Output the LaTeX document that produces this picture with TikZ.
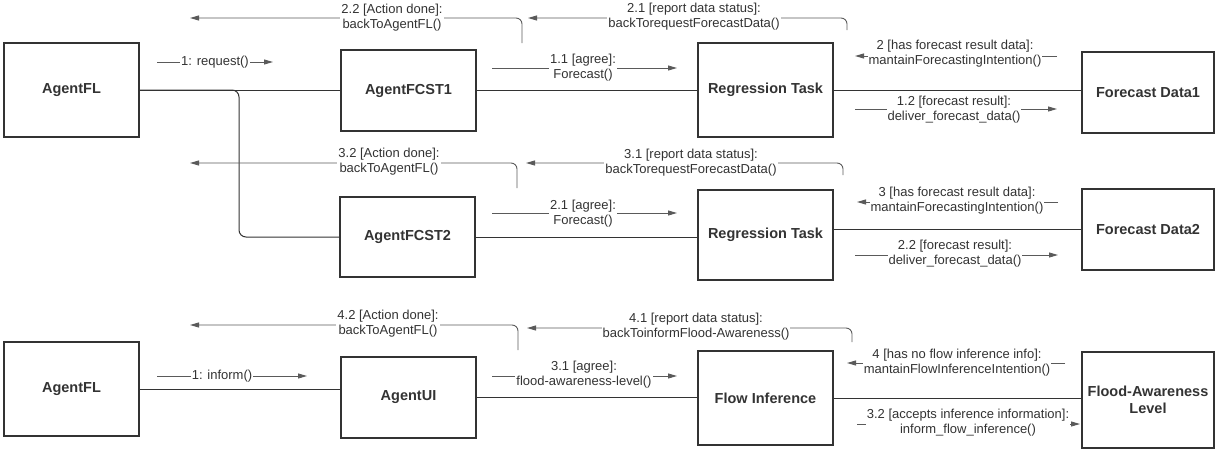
\documentclass[tikz,border=0pt]{standalone}
\usepackage{fontspec}
\setmainfont{Liberation Sans}
\usetikzlibrary{arrows.meta}
\definecolor{boxc}{HTML}{333333}
\definecolor{msgc}{HTML}{5A5A5A}
\definecolor{txtc}{HTML}{333333}
\begin{document}
\begin{tikzpicture}[x=1pt,y=-1pt,
 box/.style={draw=boxc, line width=1.3pt, fill=white, text=txtc, font=\fontsize{14.5}{17}\selectfont\bfseries, align=center, inner sep=0pt},
 conn/.style={draw=boxc, line width=1pt},
 msg/.style={draw=msgc, line width=0.9pt, rounded corners=6pt, -{Triangle[length=9pt,width=5pt]}},
 lbl/.style={fill=white, text=txtc, font=\fontsize{13}{15}\selectfont, align=center, inner sep=1pt}]
\useasboundingbox (0,0) rectangle (1215,450);

% boxes
\node[box, minimum width=135pt, minimum height=94pt] (fl1) at (71.5,90) {AgentFL};
\node[box, minimum width=135pt, minimum height=81pt] (fc1) at (408.5,90.5) {AgentFCST1};
\node[box, minimum width=135pt, minimum height=94pt] (rt1) at (765.5,90) {Regression Task};
\node[box, minimum width=132pt, minimum height=81pt] (fd1) at (1148,92.5) {Forecast Data1};
\node[box, minimum width=135pt, minimum height=80pt] (fc2) at (407.5,237) {AgentFCST2};
\node[box, minimum width=135pt, minimum height=90pt] (rt2) at (765.5,235) {Regression Task};
\node[box, minimum width=132pt, minimum height=81pt] (fd2) at (1148,229.5) {Forecast Data2};
\node[box, minimum width=135pt, minimum height=94pt] (fl3) at (71.5,389) {AgentFL};
\node[box, minimum width=135pt, minimum height=81pt] (ui) at (408.5,397.5) {AgentUI};
\node[box, minimum width=135pt, minimum height=94pt] (fi) at (765.5,398) {Flow Inference};
\node[box, minimum width=132pt, minimum height=96pt] (fa) at (1148,400) {Flood-Awareness\\Level};

% structural connectors
\coordinate (j) at (239,90);
\draw[conn] (fl1.east) -- (fl1.east -| fc1.west);
\draw[conn, rounded corners=7pt] (fl1.east) -- (j) |- (fc2.west);
\draw[conn] (fc1.east) -- (fc1.east -| rt1.west);
\draw[conn] (rt1.east) -- (rt1.east -| fd1.west);
\draw[conn] (fc2.east) -- (fc2.east -| rt2.west);
\draw[conn] (rt2.east |- fd2.west) -- (fd2.west);
\draw[conn] (fl3.east) -- (fl3.east -| ui.west);
\draw[conn] (ui.east) -- (ui.east -| fi.west);
\draw[conn] (fi.east) -- (fi.east -| fa.west);

% message coordinates
\coordinate (a22s) at (522,43);  \coordinate (a22m) at (522,18);  \coordinate (a22e) at (190,18);
\coordinate (a21s) at (847,30);  \coordinate (a21m) at (847,18);  \coordinate (a21e) at (528,18);
\coordinate (a1s) at (157,62);   \coordinate (a1e) at (273,62);
\coordinate (a11s) at (492,68);  \coordinate (a11e) at (677,68);
\coordinate (a2s) at (1057,56);  \coordinate (a2e) at (855,56);
\coordinate (a12s) at (855,109); \coordinate (a12e) at (1057,109);
\coordinate (b32s) at (517,188); \coordinate (b32m) at (517,163); \coordinate (b32e) at (190,163);
\coordinate (b31s) at (843,175); \coordinate (b31m) at (843,163); \coordinate (b31e) at (526,163);
\coordinate (b21s) at (492,213); \coordinate (b21e) at (677,213);
\coordinate (b3s) at (1058,202); \coordinate (b3e) at (857,202);
\coordinate (b22s) at (855,255); \coordinate (b22e) at (1058,255);
\coordinate (c1s) at (157,376);  \coordinate (c1e) at (307,376);
\coordinate (c42s) at (518,350); \coordinate (c42m) at (518,325); \coordinate (c42e) at (190,325);
\coordinate (c41s) at (852,342); \coordinate (c41m) at (852,328); \coordinate (c41e) at (527,328);
\coordinate (c31s) at (492,376); \coordinate (c31e) at (677,376);
\coordinate (c4s) at (1065,363); \coordinate (c4e) at (847,363);
\coordinate (c32s) at (857,424); \coordinate (c32e) at (1080,424);

% message arrows
\draw[msg] (a22s) -- (a22m) -- (a22e);
\draw[msg] (a21s) -- (a21m) -- (a21e);
\draw[msg] (a1s) -- (a1e);
\draw[msg] (a11s) -- (a11e);
\draw[msg] (a2s) -- (a2e);
\draw[msg] (a12s) -- (a12e);
\draw[msg] (b32s) -- (b32m) -- (b32e);
\draw[msg] (b31s) -- (b31m) -- (b31e);
\draw[msg] (b21s) -- (b21e);
\draw[msg] (b3s) -- (b3e);
\draw[msg] (b22s) -- (b22e);
\draw[msg] (c1s) -- (c1e);
\draw[msg] (c42s) -- (c42m) -- (c42e);
\draw[msg] (c41s) -- (c41m) -- (c41e);
\draw[msg] (c31s) -- (c31e);
\draw[msg] (c4s) -- (c4e);
\draw[msg] (c32s) -- (c32e);

% message labels
\node[lbl] (l22) at (392,17.5) {2.2 [Action done]:\\backToAgentFL()};
\node[lbl] (l21) at (694,17) {2.1 [report data status]:\\backTorequestForecastData()};
\node[lbl] (l1) at (215,62) {1: request()};
\node[lbl] (l11) at (583,68) {1.1 [agree]:\\Forecast()};
\node[lbl] (l2) at (955,54) {2 [has forecast result data]:\\mantainForecastingIntention()};
\node[lbl] (l12) at (954,109.5) {1.2 [forecast result]:\\deliver\_forecast\_data()};
\node[lbl] (m32) at (389,162) {3.2 [Action done]:\\backToAgentFL()};
\node[lbl] (m31) at (691,163) {3.1 [report data status]:\\backTorequestForecastData()};
\node[lbl] (m21) at (583,213.5) {2.1 [agree]:\\Forecast()};
\node[lbl] (m3) at (957,200.5) {3 [has forecast result data]:\\mantainForecastingIntention()};
\node[lbl] (m22) at (955,253.5) {2.2 [forecast result]:\\deliver\_forecast\_data()};
\node[lbl] (n1) at (222,376) {1: inform()};
\node[lbl] (n42) at (388,324) {4.2 [Action done]:\\backToAgentFL()};
\node[lbl] (n41) at (696,327) {4.1 [report data status]:\\backToinformFlood-Awareness()};
\node[lbl] (n31) at (584,374.5) {3.1 [agree]:\\flood-awareness-level()};
\node[lbl] (n4) at (957,362.5) {4 [has no flow inference info]:\\mantainFlowInferenceIntention()};
\node[lbl] (n32) at (968,422.5) {3.2 [accepts inference information]:\\inform\_flow\_inference()};
\end{tikzpicture}
\end{document}
